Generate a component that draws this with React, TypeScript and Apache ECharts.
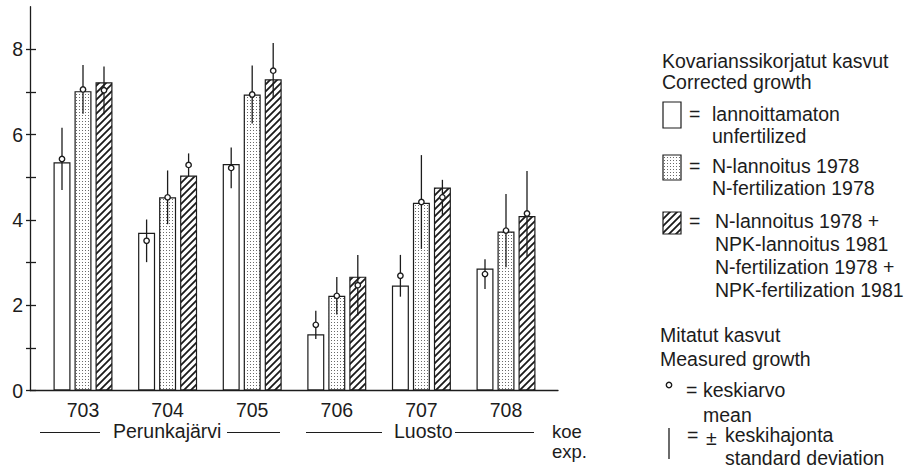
import React, { useEffect, useRef } from "react";
import * as echarts from "echarts";

const categories = ["703", "704", "705", "706", "707", "708"];
const seriesNames = [
  "lannoittamaton / unfertilized",
  "N-lannoitus 1978 / N-fertilization 1978",
  "N-lannoitus 1978 + NPK-lannoitus 1981",
];
// Corrected growth (bar heights)
const correctedUnfert = [5.35, 3.7, 5.31, 1.32, 2.46, 2.86];
const correctedN = [7.02, 4.53, 6.94, 2.22, 4.4, 3.73];
const correctedNPK = [7.23, 5.04, 7.3, 2.67, 4.76, 4.09];
// Measured growth: mean and standard deviation
const meanUnfert = [5.43, 3.51, 5.22, 1.54, 2.69, 2.73];
const sdUnfert = [0.73, 0.5, 0.48, 0.33, 0.49, 0.35];
const meanN = [7.06, 4.53, 6.94, 2.22, 4.42, 3.75];
const sdN = [0.57, 0.63, 0.68, 0.44, 1.1, 0.86];
const meanNPK = [7.04, 5.29, 7.5, 2.47, 4.53, 4.15];
const sdNPK = [0.56, 0.27, 0.65, 0.71, 0.41, 1.0];
const yTicks = [0, 1, 2, 3, 4, 5, 6, 7, 8];
const yLabels = [0, 2, 4, 6, 8];

const FONT = '"Liberation Sans", Arial, Helvetica, sans-serif';
const FS = 19.5;
const INK = "#1c1c1c";
const BAR_W = 17;
const BAR_GAP = 4;

function makeCanvas(w: number, h: number, draw: (ctx: CanvasRenderingContext2D) => void) {
  const c = document.createElement("canvas");
  c.width = w;
  c.height = h;
  const ctx = c.getContext("2d") as CanvasRenderingContext2D;
  draw(ctx);
  return c;
}

export default function App() {
  const ref = useRef<HTMLDivElement>(null);
  useEffect(() => {
    if (!ref.current) return;
    const chart = echarts.init(ref.current, undefined, { renderer: "svg" });

    const dotted = makeCanvas(3, 3, (ctx) => {
      ctx.fillStyle = "#ffffff";
      ctx.fillRect(0, 0, 3, 3);
      ctx.fillStyle = "#6a6a6a";
      ctx.fillRect(1, 1, 1, 1);
    });
    const T = 7;
    const hatched = makeCanvas(T, T, (ctx) => {
      ctx.fillStyle = "#ffffff";
      ctx.fillRect(0, 0, T, T);
      ctx.strokeStyle = "#1a1a1a";
      ctx.lineWidth = 1.8;
      ctx.beginPath();
      ctx.moveTo(-1, T + 1);
      ctx.lineTo(T + 1, -1);
      ctx.moveTo(-2, 2);
      ctx.lineTo(2, -2);
      ctx.moveTo(T - 2, T + 2);
      ctx.lineTo(T + 2, T - 2);
      ctx.stroke();
    });
    const fills: any[] = [
      "#ffffff",
      { image: dotted, repeat: "repeat" },
      { image: hatched, repeat: "repeat" },
    ];
    const corrected = [correctedUnfert, correctedN, correctedNPK];
    const means = [meanUnfert, meanN, meanNPK];
    const sds = [sdUnfert, sdN, sdNPK];

    const txt = (text: string, x: number, y: number, extra: any = {}) => ({
      type: "text",
      style: {
        text,
        x,
        y,
        fontSize: FS,
        fontFamily: FONT,
        fill: INK,
        verticalAlign: "middle",
        ...extra,
      },
    });
    const hline = (x1: number, x2: number, y: number) => ({
      type: "line",
      shape: { x1, y1: y, x2, y2: y },
      style: { stroke: INK, lineWidth: 1.2 },
    });

    const barSeries = corrected.map((vals, k) => ({
      type: "bar",
      name: seriesNames[k],
      xAxisIndex: 1,
      yAxisIndex: 2,
      data: vals,
      barWidth: BAR_W,
      barGap: (BAR_GAP / BAR_W) * 100 + "%",
      itemStyle: { color: fills[k], borderColor: INK, borderWidth: 1.2 },
      z: 2,
    }));

    const errSeries = means.map((m, k) => ({
      type: "custom",
      xAxisIndex: 1,
      yAxisIndex: 2,
      z: 5,
      clip: false,
      encode: { x: 0, y: 1 },
      data: m.map((v, i) => [i, v, sds[k][i]]),
      renderItem: (params: any, api: any) => {
        const ci = api.value(0);
        const mv = api.value(1);
        const s = api.value(2);
        const c = api.coord([ci, mv]);
        const x = c[0] + (k - 1) * (BAR_W + BAR_GAP);
        const top = api.coord([ci, mv + s])[1];
        const bot = api.coord([ci, mv - s])[1];
        return {
          type: "group",
          children: [
            {
              type: "line",
              shape: { x1: x, y1: top, x2: x, y2: bot },
              style: { stroke: INK, lineWidth: 1.3 },
            },
            {
              type: "circle",
              shape: { cx: x, cy: c[1], r: 2.7 },
              style: { fill: "#ffffff", stroke: INK, lineWidth: 1.4 },
            },
          ],
        };
      },
    }));

    const option: any = {
      animation: false,
      backgroundColor: "#ffffff",
      textStyle: { fontFamily: FONT },
      grid: [
        { left: 30, right: 351, top: 6.7, bottom: 79.5 },
        { left: 40.7, width: 507.6, top: 6.7, bottom: 79.5 },
      ],
      xAxis: [
        {
          type: "value",
          gridIndex: 0,
          min: 0,
          max: 1,
          axisLine: { show: true, onZero: false, lineStyle: { color: INK, width: 1.3 } },
          axisTick: { show: false },
          axisLabel: { show: false },
          splitLine: { show: false },
        },
        {
          type: "category",
          gridIndex: 1,
          data: categories,
          axisLine: { show: false },
          axisTick: { show: false },
          axisLabel: { color: INK, fontSize: FS, fontFamily: FONT, margin: 12, lineHeight: 15 },
          splitLine: { show: false },
        },
      ],
      yAxis: [
        {
          type: "value",
          gridIndex: 0,
          min: 0,
          max: 9,
          interval: 1,
          axisLine: { show: true, lineStyle: { color: INK, width: 1.3 } },
          axisTick: { show: true, length: 4, customValues: yTicks, lineStyle: { color: INK, width: 1.3 } },
          axisLabel: { color: INK, fontSize: FS, fontFamily: FONT, margin: 7, customValues: yLabels },
          splitLine: { show: false },
        },
        {
          type: "value",
          gridIndex: 0,
          min: 0,
          max: 9,
          interval: 1,
          position: "left",
          axisLine: { show: false },
          axisTick: { show: true, inside: true, length: 6, customValues: yTicks, lineStyle: { color: INK, width: 1.3 } },
          axisLabel: { show: false },
          splitLine: { show: false },
        },
        {
          type: "value",
          gridIndex: 1,
          min: 0,
          max: 9,
          show: false,
          splitLine: { show: false },
        },
      ],
      series: [...barSeries, ...errSeries],
      graphic: [
        // bottom site labels
        txt("Perunkajärvi", 113, 431, { lineHeight: 16 }),
        hline(40, 100, 432.5),
        hline(227, 280, 432.5),
        txt("Luosto", 394, 431, { lineHeight: 16 }),
        hline(306, 382, 432.5),
        hline(455, 534, 432.5),
        txt("koe\nexp.", 552, 441.5, { lineHeight: 19.5, fontSize: 18.5 }),
        // legend: corrected growth
        txt("Kovarianssikorjatut kasvut\nCorrected growth", 662, 71.5, { lineHeight: 21 }),
        {
          type: "rect",
          shape: { x: 663, y: 102, width: 18, height: 26 },
          style: { fill: fills[0], stroke: INK, lineWidth: 1.2 },
        },
        txt("=", 689, 114),
        txt("lannoittamaton\nunfertilized", 712, 125, { lineHeight: 22 }),
        {
          type: "rect",
          shape: { x: 663, y: 155, width: 18, height: 25 },
          style: { fill: fills[1], stroke: INK, lineWidth: 1.2 },
        },
        txt("=", 689, 166),
        txt("N-lannoitus 1978\nN-fertilization 1978", 712, 177, { lineHeight: 22 }),
        {
          type: "rect",
          shape: { x: 663, y: 212, width: 18, height: 22 },
          style: { fill: fills[2], stroke: INK, lineWidth: 1.2 },
        },
        txt("=", 689, 221),
        txt(
          "N-lannoitus 1978 +\nNPK-lannoitus 1981\nN-fertilization 1978 +\nNPK-fertilization 1981",
          715,
          255.5,
          { lineHeight: 23 }
        ),
        // legend: measured growth
        txt("Mitatut kasvut\nMeasured growth", 660, 347, { lineHeight: 24 }),
        {
          type: "circle",
          shape: { cx: 669, cy: 385, r: 2.7 },
          style: { fill: "#ffffff", stroke: INK, lineWidth: 1.4 },
        },
        txt("=", 686, 390),
        txt("keskiarvo\nmean", 703, 402.5, { lineHeight: 25 }),
        {
          type: "line",
          shape: { x1: 669, y1: 428, x2: 669, y2: 459 },
          style: { stroke: INK, lineWidth: 1.3 },
        },
        txt("=", 687, 435),
        txt("±", 706, 438),
        txt("keskihajonta\nstandard deviation", 725, 446.5, { lineHeight: 23 }),
      ],
    };
    chart.setOption(option);
    return () => chart.dispose();
  }, []);

  return (
    <div
      ref={ref}
      style={{ position: "fixed", left: 0, top: 0, width: 909, height: 470, background: "#fff" }}
    />
  );
}
